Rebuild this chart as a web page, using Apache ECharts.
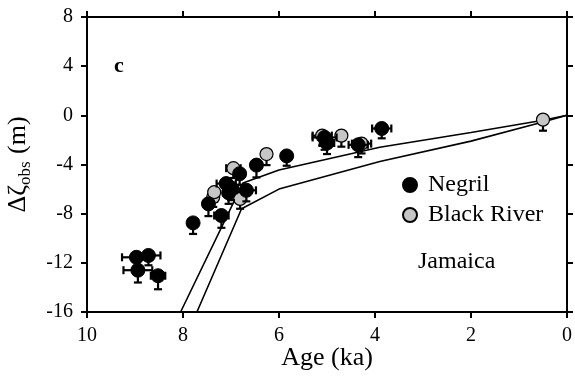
<!DOCTYPE html>
<html>
<head>
<meta charset="utf-8">
<script src="https://cdn.jsdelivr.net/npm/echarts@6/dist/echarts.min.js"></script>
<style>
html,body{margin:0;padding:0;background:#fff;}
#chart{width:575px;height:381px;}
</style>
</head>
<body>
<div id="chart"></div>
<script>
// ---- data ----
const xTicks = [10, 8, 6, 4, 2, 0];
const yTicks = [8, 4, 0, -4, -8, -12, -16];

const negrilAge      = [8.97, 8.72, 8.94, 8.52, 7.79, 7.47, 7.20, 7.10, 7.00, 7.05, 6.82, 6.68, 6.47, 5.84, 5.05, 5.00, 4.35, 3.86];
const negrilDepth    = [-11.55, -11.4, -12.6, -13.05, -8.75, -7.2, -8.15, -5.55, -5.9, -6.3, -4.75, -6.1, -4.05, -3.3, -1.8, -2.25, -2.4, -1.07];
const negrilAgeErr   = [0.3, 0.25, 0.3, 0.15, 0.1, 0.1, 0.15, 0.2, 0.15, 0.1, 0.1, 0.2, 0.1, 0.1, 0.25, 0.15, 0.2, 0.2];
const negrilDepthErr = [1.0, 0.8, 1.0, 1.1, 0.9, 1.0, 1.0, 1.0, 1.0, 0.9, 0.9, 0.9, 1.0, 0.8, 1.0, 0.9, 1.0, 0.8];

const blackAge      = [7.37, 7.35, 6.81, 6.95, 6.26, 5.10, 4.70, 4.28, 0.50];
const blackDepth    = [-6.65, -6.25, -6.8, -4.3, -3.15, -1.65, -1.65, -2.3, -0.35];
const blackAgeErr   = [0.0, 0.1, 0.0, 0.15, 0.0, 0.2, 0.0, 0.2, 0.0];
const blackDepthErr = [0.8, 0.8, 0.8, 0.8, 0.9, 0.8, 0.9, 0.8, 0.9];

const modelUpperAge   = [8.05, 6.75, 6.0, 3.9, 2.0, 0.5, 0.0];
const modelUpperDepth = [-16, -5.5, -4.45, -2.6, -1.4, -0.4, 0.0];
const modelLowerAge   = [7.71, 6.78, 6.0, 3.9, 2.0, 0.5, 0.0];
const modelLowerDepth = [-16, -7.6, -6.0, -3.75, -2.1, -0.55, 0.0];

// ---- build ----
const FONT = 'Liberation Serif';
function zip(a, b) { return a.map((v, i) => [v, b[i]]); }
function zip4(a, b, c, d) { return a.map((v, i) => [v, b[i], c[i], d[i]]); }

function renderErr(params, api) {
  const x = api.value(0), y = api.value(1), xe = api.value(2), ye = api.value(3);
  const c = api.coord([x, y]);
  const st = { stroke: '#000', lineWidth: 2.2 };
  const ch = [];
  const cap = 4;
  if (ye > 0) {
    const b = api.coord([x, y - ye]);
    ch.push({ type: 'line', shape: { x1: c[0], y1: c[1], x2: b[0], y2: b[1] }, style: st });
    ch.push({ type: 'line', shape: { x1: b[0] - cap, y1: b[1], x2: b[0] + cap, y2: b[1] }, style: st });
  }
  if (xe > 0) {
    const l = api.coord([x + xe, y]), r = api.coord([x - xe, y]);
    ch.push({ type: 'line', shape: { x1: l[0], y1: l[1], x2: r[0], y2: r[1] }, style: st });
    ch.push({ type: 'line', shape: { x1: l[0], y1: l[1] - cap, x2: l[0], y2: l[1] + cap }, style: st });
    ch.push({ type: 'line', shape: { x1: r[0], y1: r[1] - cap, x2: r[0], y2: r[1] + cap }, style: st });
  }
  return { type: 'group', children: ch };
}

const axisLine = { show: true, onZero: false, lineStyle: { color: '#000', width: 2 } };
const axisTick = { show: true, inside: false, length: 6, lineStyle: { color: '#000', width: 2 } };

const chart = echarts.init(document.getElementById('chart'), null, { renderer: 'canvas' });
chart.setOption({
  animation: false,
  backgroundColor: '#fff',
  grid: { left: 87, right: 8, top: 17, bottom: 69, containLabel: false, outerBoundsMode: 'none' },
  legend: {
    data: ['Negril', 'Black River'],
    orient: 'vertical',
    left: 397, top: 168,
    itemWidth: 14, itemHeight: 14, itemGap: 6,
    icon: 'circle',
    textStyle: { fontFamily: FONT, fontSize: 24, color: '#000', padding: [0, 0, 0, 6] }
  },
  xAxis: [{
    type: 'value', min: 0, max: 10, interval: 2, inverse: true,
    position: 'bottom',
    axisLine, axisTick, splitLine: { show: false },
    axisLabel: { color: '#000', fontFamily: FONT, fontSize: 20, margin: 14 },
    name: 'Age (ka)', nameLocation: 'middle', nameGap: 33, nameMoveOverlap: false,
    nameTextStyle: { color: '#000', fontFamily: FONT, fontSize: 26 }
  }, {
    type: 'value', min: 0, max: 10, interval: 2, inverse: true,
    position: 'top',
    axisLine, axisTick, splitLine: { show: false }, axisLabel: { show: false }
  }],
  yAxis: [{
    type: 'value', min: -16, max: 8, interval: 4,
    position: 'left',
    axisLine, axisTick, splitLine: { show: false },
    axisLabel: { color: '#000', fontFamily: FONT, fontSize: 20, margin: 14 },
    name: '{a|Δζ}{b|obs}{a| (m)}', nameLocation: 'middle', nameGap: 53,
    nameTextStyle: {
      color: '#000', fontFamily: FONT, fontSize: 26,
      rich: {
        a: { fontFamily: FONT, fontSize: 26, color: '#000', lineHeight: 32 },
        b: { fontFamily: FONT, fontSize: 17, color: '#000', lineHeight: 32, padding: [15, 1, 0, 0] }
      }
    }
  }, {
    type: 'value', min: -16, max: 8, interval: 4,
    position: 'right',
    axisLine, axisTick, splitLine: { show: false }, axisLabel: { show: false }
  }],
  graphic: [
    { type: 'text', left: 114, top: 55, style: { text: 'c', font: 'bold 22px "Liberation Serif"', fill: '#000' } },
    { type: 'text', left: 418, top: 250, style: { text: 'Jamaica', font: '24px "Liberation Serif"', fill: '#000' } }
  ],
  series: [
    {
      name: 'modelUpper', type: 'line', data: zip(modelUpperAge, modelUpperDepth),
      showSymbol: false, symbol: 'none', lineStyle: { color: '#000', width: 1.6 }, z: 1, silent: true
    },
    {
      name: 'modelLower', type: 'line', data: zip(modelLowerAge, modelLowerDepth),
      showSymbol: false, symbol: 'none', lineStyle: { color: '#000', width: 1.6 }, z: 1, silent: true
    },
    {
      name: 'errBlack', type: 'custom', renderItem: renderErr,
      data: zip4(blackAge, blackDepth, blackAgeErr, blackDepthErr), encode: { x: 0, y: 1 }, z: 2
    },
    {
      name: 'Black River', type: 'scatter', data: zip(blackAge, blackDepth),
      symbol: 'circle', symbolSize: 13,
      itemStyle: { color: '#c6c6c6', borderColor: '#000', borderWidth: 1.2, opacity: 1 }, z: 3
    },
    {
      name: 'errNegril', type: 'custom', renderItem: renderErr,
      data: zip4(negrilAge, negrilDepth, negrilAgeErr, negrilDepthErr), encode: { x: 0, y: 1 }, z: 4
    },
    {
      name: 'Negril', type: 'scatter', data: zip(negrilAge, negrilDepth),
      symbol: 'circle', symbolSize: 14,
      itemStyle: { color: '#000', borderColor: '#000', borderWidth: 1, opacity: 1 }, z: 5
    }
  ]
});
</script>
</body>
</html>
